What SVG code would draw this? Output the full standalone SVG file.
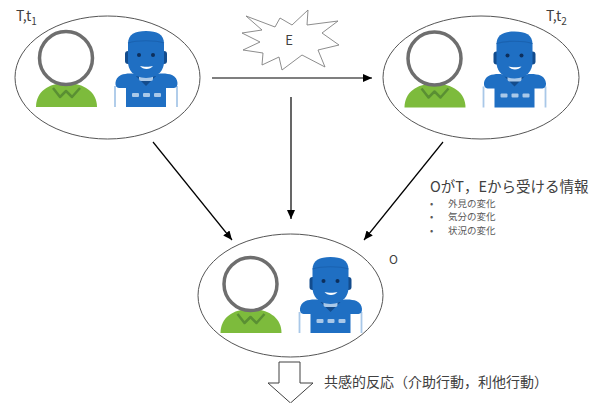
<svg xmlns="http://www.w3.org/2000/svg" xmlns:xlink="http://www.w3.org/1999/xlink" width="594" height="403" viewBox="0 0 594 403">
  <style>
    .state { fill: #ffffff; stroke: #555555; stroke-width: 1; }
    .edge { fill: none; stroke: #000000; stroke-width: 1.2; }
    .lbl { font-family: "Noto Sans CJK JP", "Noto Sans", sans-serif; fill: #404040; }
    .sub { font-family: "Noto Sans CJK JP", "Noto Sans", sans-serif; fill: #595959; font-size: 9.5px; }
  </style>
  <defs>
    <marker id="arrow" markerWidth="9" markerHeight="8" refX="9" refY="4" orient="auto" markerUnits="userSpaceOnUse">
      <path d="M0,0 L9,4 L0,8 z" fill="#000000"/>
    </marker>
    <!-- person with blank face, drawn around head centre (66,58) -->
    <g id="person">
      <path d="M36,107 C36,92 48,83 66,83 C84,83 97,92 97,107 Z" fill="#7dbb3c"/>
      <polyline points="53,88 60,97 66,91 72,97 80,88" fill="none" stroke="#5a8f33" stroke-width="2.5" stroke-linejoin="round"/>
      <circle cx="66" cy="58" r="26.5" fill="#ffffff" stroke="#6e6e6e" stroke-width="3.5"/>
    </g>
    <!-- blue robot -->
    <g id="robot">
      <line x1="115" y1="86" x2="115" y2="107" stroke="#a9c8e8" stroke-width="1.8"/>
      <line x1="177" y1="86" x2="177" y2="107" stroke="#a9c8e8" stroke-width="1.8"/>
      <path d="M119,88 C114,88 114,78 121,75 C126,73 134,73 138,75 L154,75 C158,73 167,73 172,75 C179,78 179,88 174,88 L166,88 L166,107 L126,107 L126,88 Z" fill="#1f6fc3"/>
      <path d="M136,76 L146,86 L156,76 Z" fill="#134c8d"/>
      <rect x="139" y="75" width="14" height="6" rx="2" fill="#a9c8e8"/>
      <rect x="125" y="51" width="7" height="13" rx="3" fill="#134c8d"/>
      <rect x="160" y="51" width="7" height="13" rx="3" fill="#134c8d"/>
      <path d="M128,44 C128,34 135,31 146,31 C157,31 164,34 164,44 L164,62 C164,69 159,78 146,78 C133,78 128,69 128,62 Z" fill="#1f6fc3"/>
      <path d="M128,43 C137,40 155,40 164,43" fill="none" stroke="#1a62b0" stroke-width="1.2"/>
      <circle cx="139" cy="55" r="2" fill="#0d2f5c"/>
      <circle cx="153" cy="55" r="2" fill="#0d2f5c"/>
      <path d="M140,66 C143,70 150,70 153,66 C150,67 143,67 140,66 Z" fill="#ffffff"/>
      <rect x="132" y="93" width="7" height="4" rx="1" fill="#a9c8e8"/>
      <rect x="143" y="93" width="7" height="4" rx="1" fill="#a9c8e8"/>
      <rect x="154" y="93" width="7" height="4" rx="1" fill="#a9c8e8"/>
    </g>
  </defs>

  <!-- connectors -->
  <g id="connectors">
    <line class="edge" x1="212" y1="78" x2="372" y2="78" marker-end="url(#arrow)"/>
    <line class="edge" x1="291" y1="97" x2="291" y2="219" marker-end="url(#arrow)"/>
    <line class="edge" x1="153" y1="142" x2="232" y2="240" marker-end="url(#arrow)"/>
    <line class="edge" x1="443" y1="142" x2="364" y2="240" marker-end="url(#arrow)"/>
  </g>

  <!-- state T at t1 -->
  <g id="state-t1">
    <ellipse class="state" cx="107.5" cy="77.5" rx="92.5" ry="61.5"/>
    <use xlink:href="#person"/>
    <use xlink:href="#robot"/>
    <text class="lbl" x="16" y="21" font-size="14">T,t<tspan font-size="10" dy="4">1</tspan></text>
  </g>

  <!-- state T at t2 -->
  <g id="state-t2">
    <ellipse class="state" cx="481" cy="77.5" rx="98" ry="61.5"/>
    <g transform="translate(368.5,0.5)">
      <use xlink:href="#person"/>
      <use xlink:href="#robot"/>
    </g>
    <text class="lbl" x="546" y="21" font-size="14">T,t<tspan font-size="10" dy="4">2</tspan></text>
  </g>

  <!-- event E -->
  <g id="event-e">
    <polygon points="246,16 275,27 280,18 292,25 308,10 307,25 338,21 322,33 339,45 318,50 325,67 302,55 282,70 279,57 262,65 263,53 243,50 260,42 242,33 262,30" fill="#ffffff" stroke="#808080" stroke-width="0.9"/>
    <text class="lbl" x="289" y="45" font-size="13" text-anchor="middle">E</text>
  </g>

  <!-- observer O -->
  <g id="observer-o">
    <ellipse class="state" cx="290.5" cy="295.5" rx="92.5" ry="61.5"/>
    <g transform="translate(184.5,226)">
      <use xlink:href="#person"/>
      <use xlink:href="#robot"/>
    </g>
    <text class="lbl" x="389" y="264" font-size="12">O</text>
  </g>

  <!-- information O receives -->
  <g id="info">
    <text class="lbl" x="430" y="192" font-size="14.5">OがT，Eから受ける情報</text>
    <text class="sub" x="430" y="207">•</text>
    <text class="sub" x="448" y="207">外見の変化</text>
    <text class="sub" x="430" y="220">•</text>
    <text class="sub" x="448" y="220">気分の変化</text>
    <text class="sub" x="430" y="234">•</text>
    <text class="sub" x="448" y="234">状況の変化</text>
  </g>

  <!-- empathic response -->
  <g id="response">
    <polygon points="279,362 300,362 300,383 313,383 290.5,403 268,383 279,383" fill="#ffffff" stroke="#404040" stroke-width="1"/>
    <text class="lbl" x="324" y="387" font-size="14">共感的反応（介助行動，利他行動）</text>
  </g>
</svg>
